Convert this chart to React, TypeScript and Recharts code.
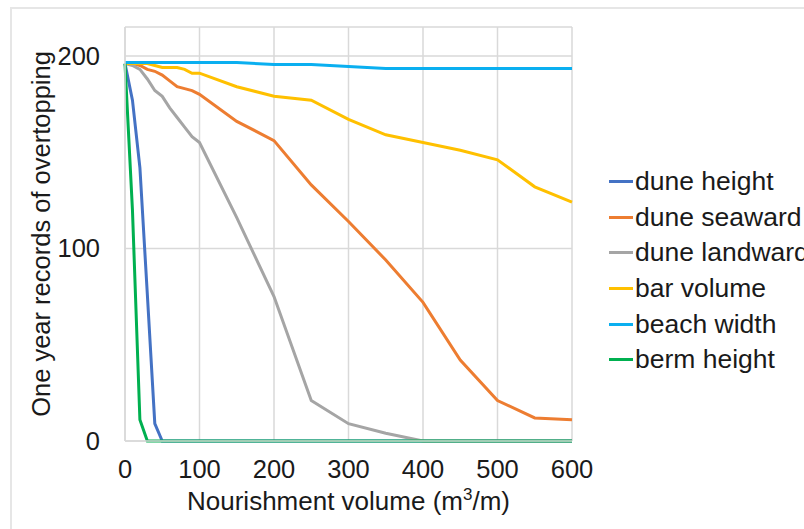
import React from "react";
import { LineChart, Line, XAxis, YAxis, CartesianGrid, Label } from "recharts";

const xValues = [0, 10, 20, 30, 40, 50, 60, 70, 80, 90, 100, 150, 200, 250, 300, 350, 400, 450, 500, 550, 600];
const duneHeight = [196, 177, 142, 76, 9, 0, 0, 0, 0, 0, 0, 0, 0, 0, 0, 0, 0, 0, 0, 0, 0];
const duneSeaward = [196, 196, 195, 193, 192, 190, 187, 184, 183, 182, 180, 166, 156, 133, 114, 94, 72, 42, 21, 12, 11];
const duneLandward = [196, 195, 193, 188, 182, 179, 173, 168, 163, 158, 155, 116, 75, 21, 9, 4, 0, 0, 0, 0, 0];
const barVolume = [196, 196, 196, 196, 195, 194, 194, 194, 193, 191, 191, 184, 179, 177, 167, 159, 155, 151, 146, 132, 124];
const beachWidth = [196.5, 196.5, 196.5, 196.5, 196.5, 196.5, 196.5, 196.5, 196.5, 196.5, 196.5, 196.5, 195.5, 195.5, 194.5, 193.5, 193.5, 193.5, 193.5, 193.5, 193.5];
const bermHeight = [196, 120, 11, 0, 0, 0, 0, 0, 0, 0, 0, 0, 0, 0, 0, 0, 0, 0, 0, 0, 0];

const xTicks = [0, 100, 200, 300, 400, 500, 600];
const yTicks = [0, 100, 200];

const seriesDefs = [
  { key: "duneHeight", name: "dune height", values: duneHeight, color: "#4472C4" },
  { key: "duneSeaward", name: "dune seaward", values: duneSeaward, color: "#ED7D31" },
  { key: "duneLandward", name: "dune landward", values: duneLandward, color: "#A5A5A5" },
  { key: "barVolume", name: "bar volume", values: barVolume, color: "#FFC000" },
  { key: "beachWidth", name: "beach width", values: beachWidth, color: "#0AAFF0" },
  { key: "bermHeight", name: "berm height", values: bermHeight, color: "#00B050" },
];

const data = xValues.map((x, i) => {
  const row: Record<string, number> = { x };
  seriesDefs.forEach((s) => {
    row[s.key] = s.values[i];
  });
  return row;
});

const FONT = "'Liberation Sans', Arial, sans-serif";
const TEXT = "#1a1a1a";
const GRID = "#d9d9d9";

export default function App() {
  return (
    <div style={{ position: "absolute", left: 0, top: 0, width: 804, height: 529, background: "#fff", overflow: "hidden" }}>
      <div
        style={{
          position: "absolute",
          left: 10,
          top: 7,
          width: 820,
          height: 540,
          borderTop: `2px solid #e6e6e6`,
          borderLeft: `2px solid #e6e6e6`,
        }}
      />
      <LineChart
        width={804}
        height={529}
        data={data}
        margin={{ top: 27, right: 232, bottom: 0, left: 0 }}
        style={{ position: "absolute", left: 0, top: 0 }}
      >
        <CartesianGrid stroke={GRID} strokeWidth={1.5} />
        <XAxis
          dataKey="x"
          type="number"
          domain={[0, 600]}
          ticks={xTicks}
          height={88}
          axisLine={{ stroke: GRID, strokeWidth: 1.5 }}
          tickLine={false}
          tickSize={6}
          tickMargin={13}
          tick={{ fontSize: 25.5, fill: TEXT, fontFamily: FONT }}
        >
          <Label
            content={({ viewBox }: any) => (
              <text
                x={viewBox.x + viewBox.width / 2}
                y={viewBox.y + 69}
                textAnchor="middle"
                fontSize={26}
                fontFamily={FONT}
                fill={TEXT}
              >
                Nourishment volume (m<tspan fontSize={17} dy={-10}>3</tspan>
                <tspan dy={10}>/m)</tspan>
              </text>
            )}
          />
        </XAxis>
        <YAxis
          type="number"
          domain={[0, 215]}
          ticks={yTicks}
          width={125}
          axisLine={{ stroke: GRID, strokeWidth: 1.5 }}
          tickLine={false}
          tickSize={6}
          tickMargin={19}
          tick={{ fontSize: 25.5, fill: TEXT, fontFamily: FONT }}
        >
          <Label
            content={({ viewBox }: any) => {
              const cx = viewBox.x + 41;
              const cy = viewBox.y + viewBox.height / 2;
              return (
                <text
                  x={cx}
                  y={cy}
                  transform={`rotate(-90 ${cx} ${cy})`}
                  textAnchor="middle"
                  dominantBaseline="central"
                  fontSize={25.5}
                  fontFamily={FONT}
                  fill={TEXT}
                >
                  One year records of overtopping
                </text>
              );
            }}
          />
        </YAxis>
        {seriesDefs.map((s) => (
          <Line
            key={s.key}
            dataKey={s.key}
            name={s.name}
            stroke={s.color}
            strokeWidth={3}
            dot={false}
            activeDot={false}
            type="linear"
            isAnimationActive={false}
          />
        ))}
      </LineChart>
      <div style={{ position: "absolute", left: 609, top: 164, fontFamily: FONT, fontSize: 26.5, color: TEXT }}>
        {seriesDefs.map((s) => (
          <div key={s.key} style={{ display: "flex", alignItems: "center", height: 35.6 }}>
            <div style={{ width: 24, height: 3, background: s.color, marginRight: 2 }} />
            <span style={{ whiteSpace: "nowrap" }}>{s.name}</span>
          </div>
        ))}
      </div>
    </div>
  );
}
